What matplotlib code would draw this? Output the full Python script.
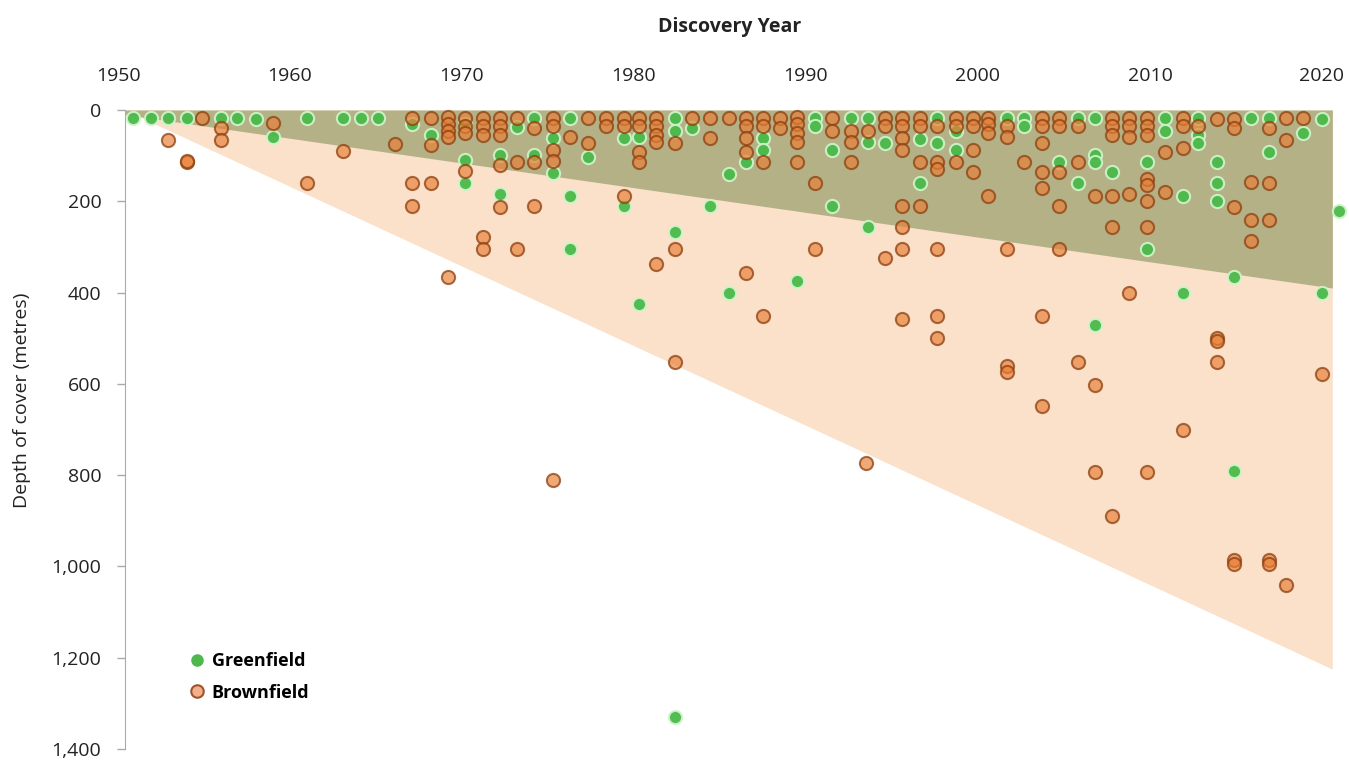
import matplotlib.pyplot as plt
import matplotlib.ticker as mticker
from matplotlib.lines import Line2D

plt.rcParams['font.family'] = ['Open Sans', 'DejaVu Sans']

# greenfield discoveries (year, depth of cover in metres)
green_year = [1950.9, 1951.9, 1952.9, 1954.0, 1956.0, 1956.9, 1958.0, 1959.0, 1961.0, 1963.1,
              1964.1, 1965.1, 1967.1, 1968.2, 1970.2, 1970.2, 1970.2, 1972.2, 1972.2, 1973.2,
              1974.2, 1974.2, 1975.3, 1975.3, 1976.3, 1976.3, 1976.3, 1977.3, 1979.4, 1979.4,
              1980.3, 1980.3, 1982.4, 1982.4, 1982.4, 1982.4, 1983.4, 1984.4, 1985.5, 1985.5,
              1986.5, 1987.5, 1987.5, 1989.5, 1990.5, 1990.5, 1991.5, 1991.5, 1992.6, 1993.6,
              1993.6, 1993.6, 1994.6, 1996.6, 1996.6, 1997.6, 1997.6, 1998.7, 1998.7, 2001.7,
              2002.7, 2002.7, 2004.7, 2005.8, 2005.8, 2006.8, 2006.8, 2006.8, 2006.8, 2007.8,
              2009.8, 2009.8, 2010.9, 2010.9, 2011.9, 2011.9, 2012.8, 2012.8, 2012.8, 2013.9,
              2013.9, 2013.9, 2014.9, 2014.9, 2015.9, 2016.9, 2016.9, 2018.9, 2020.0, 2020.0,
              2021.0]
green_depth = [17, 17, 17, 17, 17, 17, 20, 59, 17, 17,
               17, 17, 30, 55, 30, 109, 161, 98, 185, 38,
               17, 98, 61, 137, 17, 189, 304, 102, 61, 211,
               59, 424, 17, 45, 267, 1330, 40, 211, 141, 402,
               115, 61, 87, 374, 17, 35, 87, 211, 17, 17,
               70, 257, 72, 63, 161, 17, 72, 45, 87, 17,
               17, 35, 115, 17, 161, 17, 98, 115, 471, 135,
               113, 304, 17, 45, 189, 402, 17, 55, 72, 115,
               161, 200, 365, 790, 17, 17, 93, 50, 20, 402,
               222]

# brownfield discoveries (year, depth of cover in metres)
brown_year = [1952.9, 1954.0, 1954.0, 1954.9, 1956.0, 1956.0, 1959.0, 1961.0, 1963.1, 1966.1,
              1967.1, 1967.1, 1967.1, 1968.2, 1968.2, 1968.2, 1969.2, 1969.2, 1969.2, 1969.2,
              1969.2, 1970.2, 1970.2, 1970.2, 1970.2, 1971.2, 1971.2, 1971.2, 1971.2, 1971.2,
              1972.2, 1972.2, 1972.2, 1972.2, 1972.2, 1973.2, 1973.2, 1973.2, 1974.2, 1974.2,
              1974.2, 1975.3, 1975.3, 1975.3, 1975.3, 1975.3, 1976.3, 1977.3, 1977.3, 1978.4,
              1978.4, 1979.4, 1979.4, 1979.4, 1980.3, 1980.3, 1980.3, 1980.3, 1981.3, 1981.3,
              1981.3, 1981.3, 1981.3, 1982.4, 1982.4, 1982.4, 1983.4, 1984.4, 1984.4, 1985.5,
              1986.5, 1986.5, 1986.5, 1986.5, 1986.5, 1987.5, 1987.5, 1987.5, 1987.5, 1988.5,
              1988.5, 1989.5, 1989.5, 1989.5, 1989.5, 1989.5, 1990.5, 1990.5, 1991.5, 1991.5,
              1992.6, 1992.6, 1992.6, 1993.6, 1993.5, 1994.6, 1994.6, 1994.6, 1995.6, 1995.6,
              1995.6, 1995.6, 1995.6, 1995.6, 1995.6, 1995.6, 1996.6, 1996.6, 1996.6, 1996.6,
              1997.6, 1997.6, 1997.6, 1997.6, 1997.6, 1997.6, 1998.7, 1998.7, 1998.7, 1999.7,
              1999.7, 1999.7, 1999.7, 2000.6, 2000.6, 2000.6, 2000.6, 2001.7, 2001.7, 2001.7,
              2001.7, 2001.7, 2002.7, 2003.7, 2003.7, 2003.7, 2003.7, 2003.7, 2003.7, 2003.7,
              2004.7, 2004.7, 2004.7, 2004.7, 2004.7, 2005.8, 2005.8, 2005.8, 2006.8, 2006.8,
              2006.8, 2007.8, 2007.8, 2007.8, 2007.8, 2007.8, 2007.8, 2008.8, 2008.8, 2008.8,
              2008.8, 2008.8, 2009.8, 2009.8, 2009.8, 2009.8, 2009.8, 2009.8, 2009.8, 2009.8,
              2010.9, 2010.9, 2011.9, 2011.9, 2011.9, 2011.9, 2012.8, 2013.9, 2013.9, 2013.9,
              2013.9, 2014.9, 2014.9, 2014.9, 2014.9, 2014.9, 2015.9, 2015.9, 2015.9, 2016.9,
              2016.9, 2016.9, 2016.9, 2016.9, 2017.9, 2017.9, 2017.9, 2018.9, 2020.0]
brown_depth = [65, 115, 112, 17, 39, 65, 28, 161, 89, 74,
               17, 161, 211, 17, 76, 161, 15, 30, 45, 60,
               366, 17, 35, 50, 133, 17, 35, 55, 278, 304,
               17, 35, 55, 120, 213, 17, 113, 304, 39, 115,
               211, 17, 35, 87, 111, 811, 59, 17, 72, 17,
               35, 17, 35, 189, 17, 35, 91, 115, 17, 35,
               55, 70, 337, 72, 304, 552, 17, 17, 61, 17,
               17, 35, 61, 91, 357, 17, 35, 113, 452, 17,
               40, 15, 30, 50, 70, 115, 161, 304, 17, 45,
               45, 70, 115, 45, 774, 17, 35, 324, 17, 35,
               61, 87, 211, 257, 304, 458, 17, 35, 115, 211,
               35, 115, 130, 304, 452, 500, 17, 35, 115, 17,
               35, 87, 135, 17, 30, 50, 189, 35, 59, 304,
               560, 573, 115, 17, 35, 72, 135, 170, 452, 648,
               17, 35, 135, 211, 304, 35, 115, 552, 189, 602,
               793, 17, 35, 55, 189, 257, 890, 17, 35, 59,
               185, 402, 17, 35, 55, 152, 165, 200, 257, 793,
               93, 180, 17, 35, 83, 700, 35, 20, 500, 507,
               552, 20, 40, 213, 985, 995, 157, 241, 287, 40,
               161, 241, 985, 995, 17, 66, 1040, 17, 578]

# shaded envelopes: year span and lower edge depths
env_years = [1950.4, 2020.6]
green_edge = [10, 390]
brown_edge = [0, 1225]

x_ticks = [1950, 1960, 1970, 1980, 1990, 2000, 2010, 2020]
y_ticks = [0, 200, 400, 600, 800, 1000, 1200, 1400]

fig = plt.figure(figsize=(13.49, 7.62), dpi=100)
ax = fig.add_axes([118 / 1349, 13 / 762, 1 - 118 / 1349, (749 - 110) / 762])

ax.fill_between(env_years, 0, brown_edge, color='#fbe0ca', lw=0, zorder=1)
ax.fill_between(env_years, 0, green_edge, color='#b4b186', lw=0, zorder=2)

ax.scatter(green_year, green_depth, s=90, facecolor=(0.29, 0.73, 0.29, 0.95),
           edgecolor=(0.82, 0.96, 0.80, 0.9), linewidths=1.5, zorder=3, clip_on=False)
ax.scatter(brown_year, brown_depth, s=90, facecolor=(0.91, 0.50, 0.22, 0.68),
           edgecolor=(0.55, 0.25, 0.06, 0.75), linewidths=1.5, zorder=4, clip_on=False)

ax.set_xlim(1950, 2021.57)
ax.set_ylim(1400, 0)
ax.set_xticks(x_ticks)
ax.set_yticks(y_ticks)
ax.yaxis.set_major_formatter(mticker.FuncFormatter(lambda v, p: f'{int(v):,}'))
ax.xaxis.tick_top()
ax.tick_params(axis='x', length=0, pad=18, labelsize=14, labelcolor='#222222')
ax.tick_params(axis='y', length=6, width=1, color='#aaaaaa', pad=11,
               labelsize=14, labelcolor='#222222')
for side in ['top', 'right', 'bottom']:
    ax.spines[side].set_visible(False)
ax.spines['left'].set_position(('data', 1950.4))
ax.spines['left'].set_color('#aaaaaa')
ax.set_facecolor('none')

fig.text(730 / 1349, 1 - 27 / 762, 'Discovery Year', ha='center', va='center',
         fontsize=14, fontweight='bold', color='#222222')
fig.text(22 / 1349, 1 - 400 / 762, 'Depth of cover (metres)', ha='center', va='center',
         rotation=90, fontsize=14, color='#222222')

handles = [
    Line2D([], [], ls='none', marker='o', markersize=8, markerfacecolor='#4cb94c',
           markeredgecolor='#4cb94c', label='Greenfield'),
    Line2D([], [], ls='none', marker='o', markersize=9, markerfacecolor='#f1b088',
           markeredgecolor='#a0522d', markeredgewidth=1.5, label='Brownfield'),
]
leg = ax.legend(handles=handles, loc='upper left', bbox_to_anchor=(170 / 1349, 1 - 636 / 762),
                bbox_transform=fig.transFigure, frameon=False, handletextpad=0.2,
                handlelength=1.2, labelspacing=0.75, prop={'size': 13, 'weight': 'bold'})

fig.savefig('out.png', dpi=100)
